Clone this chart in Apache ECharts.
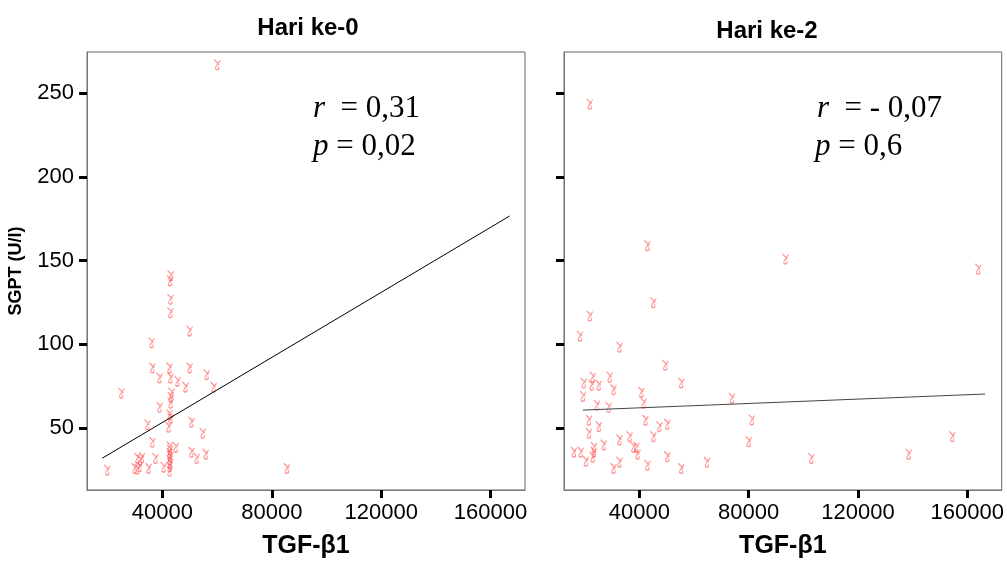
<!DOCTYPE html>
<html>
<head>
<meta charset="utf-8">
<script src="https://cdn.jsdelivr.net/npm/echarts@6/dist/echarts.min.js"></script>
<style>
  html, body { margin: 0; padding: 0; background: #fff; }
  #chart { width: 1007px; height: 565px; }
</style>
</head>
<body>
<div id="chart"></div>
<script>
// Hari ke-0: [TGF-b1, SGPT]
var day0Points = [
    [60000, 267], [43000, 141], [42800, 138], [42900, 127], [42900, 119],
    [49900, 108], [36000, 101], [36300, 86], [42600, 86], [49900, 86],
    [56150, 82], [38900, 80], [42900, 80], [45500, 78], [24950, 71],
    [48400, 74.5], [58700, 74.5], [43300, 71], [43000, 68.5], [43000, 65],
    [38900, 62.5], [42600, 58], [43000, 56], [50600, 53.6], [34500, 52],
    [42200, 50.6], [54700, 47], [36300, 41.6], [42600, 39], [42800, 37],
    [42600, 35], [42800, 33], [42600, 31], [42800, 29], [42600, 27],
    [44800, 38.6], [50600, 35.7], [52500, 32], [55800, 34.5], [30800, 32],
    [31800, 31], [32500, 32.5], [37400, 32], [19800, 25], [29800, 26],
    [30800, 25.5], [31600, 27], [34900, 26], [40400, 26.7], [42600, 24.3],
    [85500, 26]
];
// Hari ke-2: [TGF-b1, SGPT]
var day2Points = [
    [21800, 243.5], [42900, 159], [93450, 151], [164000, 145], [45100, 125],
    [21800, 117], [18200, 105], [32700, 98.4], [49450, 87.6], [22900, 80.5],
    [29100, 80.5], [19600, 77], [22500, 75.7], [25100, 75.7], [55300, 77],
    [30500, 73], [40700, 71.5], [19300, 69], [41500, 65], [24400, 63.7],
    [28700, 62.5], [21500, 54.8], [42200, 54.8], [25100, 51], [47300, 51],
    [50200, 52.4], [21500, 47], [36400, 45], [45100, 45], [26900, 40],
    [32700, 43], [23300, 38.6], [37800, 38.6], [38900, 38.6], [16000, 35.7],
    [18500, 35.7], [23300, 35.7], [39300, 34.5], [22900, 32.7], [50200, 33],
    [20400, 30.3], [32700, 29.7], [42900, 27.9], [30500, 26], [55300, 26],
    [64700, 29.7], [73800, 68], [81100, 55], [80000, 42], [102900, 32],
    [138500, 34.5], [154500, 45]
];
// fitted lines
var day0Fit = [[18000, 32], [167000, 176.6]];
var day2Fit = [[19300, 60.7], [166500, 70.3]];

var xTicks = [40000, 80000, 120000, 160000];
var yTicks = [50, 100, 150, 200, 250];
var xRange = [12400, 172600];
var yRange = [13, 274.5];

var titles = ['Hari ke-0', 'Hari ke-2'];
var statsText = [
    ['{i|r}  = 0,31', '{i|p} = 0,02'],
    ['{i|r}  = - 0,07', '{i|p} = 0,6']
];

var glyph = 'path://M1,0 L6,6 M7,1 L3,8 M3,8 Q1,12 4,12 Q7,12 5,8';

function xAxisFor(idx) {
    return {
        type: 'value',
        gridIndex: idx,
        min: xRange[0],
        max: xRange[1],
        name: 'TGF-β1',
        nameLocation: 'middle',
        nameGap: 44,
        nameTextStyle: { fontFamily: 'Liberation Sans', fontWeight: 'bold', fontSize: 25, color: '#000' },
        axisLine: { lineStyle: { color: '#777', width: 1 } },
        axisTick: { show: true, length: 8, lineStyle: { color: '#000', width: 3 }, customValues: xTicks },
        axisLabel: {
            fontFamily: 'Liberation Sans', fontSize: 22, color: '#000', margin: 12, customValues: xTicks,
            formatter: function(v) { return String(v); }
        },
        splitLine: { show: false }
    };
}

function yAxisFor(idx) {
    return {
        type: 'value',
        gridIndex: idx,
        min: yRange[0],
        max: yRange[1],
        name: idx === 0 ? 'SGPT (U/l)' : '',
        nameLocation: 'middle',
        nameGap: 62,
        nameTextStyle: { fontFamily: 'Liberation Sans', fontWeight: 'bold', fontSize: 18, color: '#000' },
        axisLine: { show: true, lineStyle: { color: '#777', width: 1 } },
        axisTick: { show: true, length: 8, lineStyle: { color: '#000', width: 3 }, customValues: yTicks },
        axisLabel: { show: idx === 0, fontFamily: 'Liberation Sans', fontSize: 22, color: '#000', margin: 13, customValues: yTicks },
        splitLine: { show: false }
    };
}

function scatterFor(idx, data) {
    return {
        type: 'scatter',
        xAxisIndex: idx,
        yAxisIndex: idx,
        data: data,
        symbol: glyph,
        symbolSize: [6, 10],
        itemStyle: { color: 'none', borderColor: '#ff5050', borderWidth: 1.2, opacity: 0.6 },
        silent: true
    };
}

function fitFor(idx, data, color) {
    return {
        type: 'line',
        xAxisIndex: idx,
        yAxisIndex: idx,
        data: data,
        showSymbol: false,
        lineStyle: { color: color, width: 1 },
        silent: true
    };
}

var statsGraphic = [];
[[313, 817], [313, 815]].forEach(function(xs, row) {
    xs.forEach(function(x, col) {
        statsGraphic.push({
            type: 'text',
            left: x,
            top: row === 0 ? 93 : 131,
            style: {
                text: statsText[col][row],
                fontFamily: 'Liberation Serif',
                fontSize: 31,
                fill: '#000',
                rich: { i: { fontStyle: 'italic', fontFamily: 'Liberation Serif', fontSize: 31 } }
            }
        });
    });
});

var myChart = echarts.init(document.getElementById('chart'));
var option = {
    backgroundColor: '#fff',
    animation: false,
    title: [
        { text: titles[0], left: 303, top: 11, textAlign: 'center',
          textStyle: { fontFamily: 'Liberation Sans', fontWeight: 'bold', fontSize: 24, color: '#000' } },
        { text: titles[1], left: 762, top: 14, textAlign: 'center',
          textStyle: { fontFamily: 'Liberation Sans', fontWeight: 'bold', fontSize: 24, color: '#000' } }
    ],
    grid: [
        { left: 87, top: 52, width: 438, height: 438, show: true, borderColor: '#666', borderWidth: 1, backgroundColor: '#fff' },
        { left: 564, top: 52, width: 438, height: 438, show: true, borderColor: '#666', borderWidth: 1, backgroundColor: '#fff' }
    ],
    xAxis: [xAxisFor(0), xAxisFor(1)],
    yAxis: [yAxisFor(0), yAxisFor(1)],
    series: [
        scatterFor(0, day0Points),
        fitFor(0, day0Fit, '#000'),
        scatterFor(1, day2Points),
        fitFor(1, day2Fit, '#444')
    ],
    graphic: statsGraphic
};
myChart.setOption(option);
</script>
</body>
</html>
